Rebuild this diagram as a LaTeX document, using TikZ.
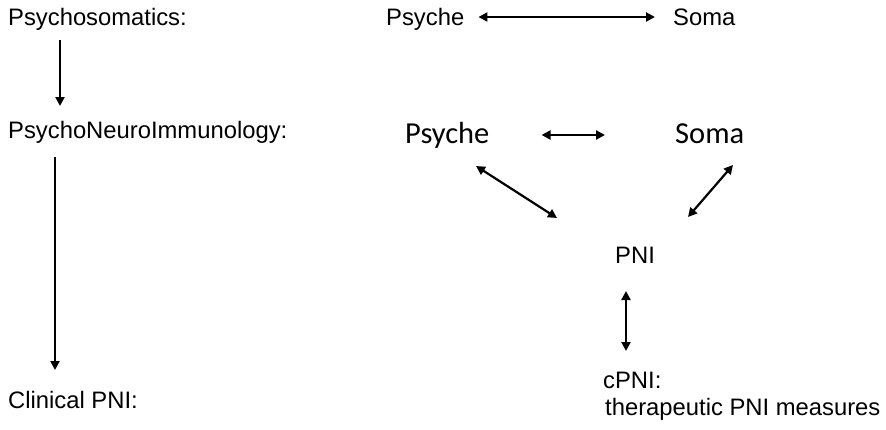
\documentclass[tikz,border=0pt]{standalone}
\usepackage{fontspec}
\setmainfont{Liberation Sans}
\newfontfamily\calfont{Carlito}
\usetikzlibrary{arrows.meta}
\tikzset{
  lbl/.style={inner sep=0pt, anchor=base west, font=\fontsize{23.8}{27}\selectfont},
  biglbl/.style={inner sep=0pt, anchor=base west, font=\calfont\fontsize{30.5}{34}\selectfont},
  arr/.style={line width=2.2pt, -{Triangle[length=9pt,width=9pt]}},
  darr/.style={line width=2.2pt, {Triangle[length=9pt,width=9pt]}-{Triangle[length=9pt,width=9pt]}}
}
\begin{document}
\begin{tikzpicture}[x=1pt,y=-1pt]
\useasboundingbox[fill=white] (0,0) rectangle (886,429);
% left column
\node[lbl] (psm) at (8,25) {Psychosomatics:};
\node[lbl] (pnil) at (8,138) {PsychoNeuroImmunology:};
\node[lbl] (cpnil) at (8,408) {Clinical PNI:};
% top right
\node[lbl] (psy1) at (386,25) {Psyche};
\node[lbl] (soma1) at (673,25) {Soma};
% middle
\node[biglbl] (psy2) at (405,143) {Psyche};
\node[biglbl] (soma2) at (675,143) {Soma};
\node[lbl] (pni) at (615,263) {PNI};
\node[lbl] (cpni) at (603,388) {cPNI:};
\node[lbl] (ther) at (605,415) {therapeutic PNI measures};
% connectors
\draw[arr] ([shift={(52,15)}]psm.base west) -- ([shift={(52,-32)}]pnil.base west);
\draw[arr] ([shift={(47,19)}]pnil.base west) -- ([shift={(47,-38)}]cpnil.base west);
\draw[darr] ([shift={(14,-8)}]psy1.base east) -- ([shift={(-18,-8)}]soma1.base west);
\draw[darr] ([shift={(52,-8)}]psy2.base east) -- ([shift={(-70,-8)}]soma2.base west);
\draw[darr] ([shift={(71,23)}]psy2.base west) -- ([shift={(-58,-45)}]pni.base west);
\draw[darr] ([shift={(58,22)}]soma2.base west) -- ([shift={(73,-46)}]pni.base west);
\draw[darr] ([shift={(11,28)}]pni.base west) -- ([shift={(23,-37)}]cpni.base west);
\end{tikzpicture}
\end{document}
